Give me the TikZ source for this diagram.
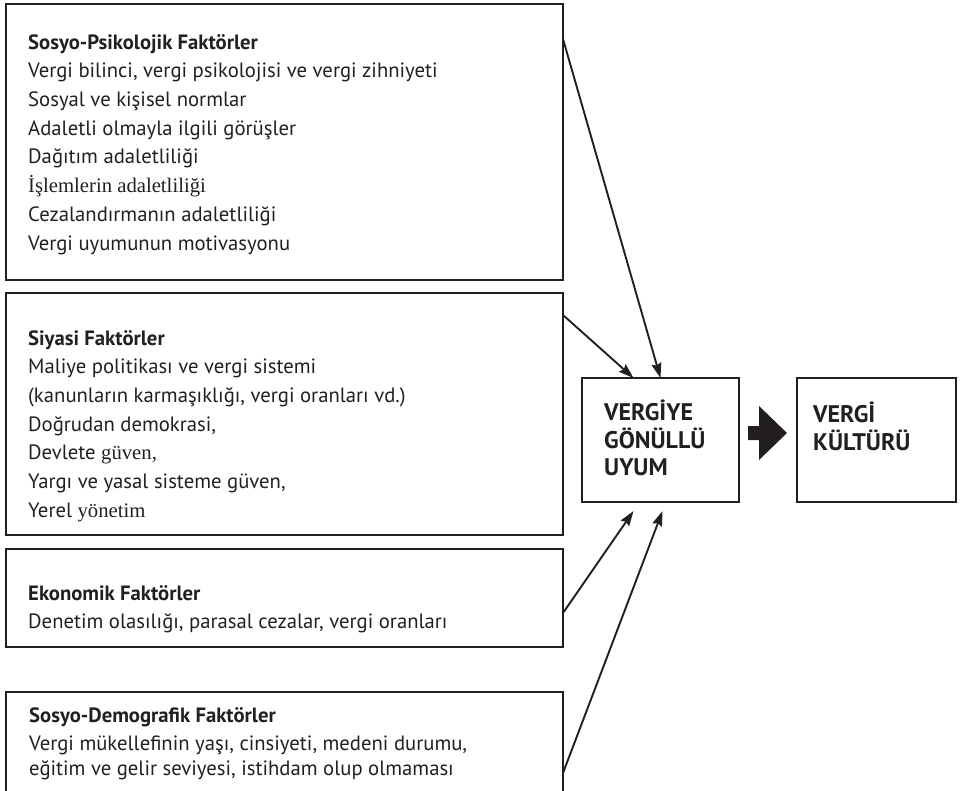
\documentclass[tikz,border=0pt]{standalone}
\usepackage{fontspec}
\setmainfont{PT Sans}
\newfontfamily\serifpart{Liberation Serif}
\usetikzlibrary{positioning,calc,arrows.meta}
\definecolor{inkblack}{RGB}{35,31,32}

\begin{document}
\begin{tikzpicture}[x=1pt,y=-1pt,
   facbox/.style={draw=inkblack,line width=2.3pt,minimum width=557pt,anchor=north west,
               inner sep=0pt,outer sep=0pt},
   factxt/.style={anchor=north west,inner sep=0pt,align=left,text=inkblack,
               font=\fontsize{20.7}{28.7}\selectfont},
   mainbox/.style={draw=inkblack,line width=2.3pt,minimum width=157pt,minimum height=124pt,
               anchor=north west,inner sep=0pt,outer sep=0pt},
   maintxt/.style={anchor=north west,inner sep=0pt,align=left,text=inkblack,
               font=\bfseries\fontsize{24}{27.5}\selectfont},
   arr/.style={-{Stealth[length=15pt,width=10pt,inset=2pt]},line width=1.9pt,color=inkblack}]
  \clip (0,0) rectangle (960,791);
  % factor boxes
  \node[facbox,minimum height=276pt] (psy) at (6,4) {};
  \node[facbox,minimum height=242pt] (pol) at (6,293) {};
  \node[facbox,minimum height=98pt] (eco) at (6,549) {};
  \node[facbox,minimum height=120pt] (dem) at (6,692) {};
  \node[factxt] (psytxt) at (28,34) {\textbf{Sosyo-Psikolojik Faktörler}\\
        Vergi bilinci, vergi psikolojisi ve vergi zihniyeti\\
        Sosyal ve kişisel normlar\\
        Adaletli olmayla ilgili görüşler\\
        Dağıtım adaletliliği\\
        {\serifpart İşlemlerin adaletliliği}\\
        Cezalandırmanın adaletliliği\\
        Vergi uyumunun motivasyonu};
  \node[factxt] (poltxt) at (28,330) {\textbf{Siyasi Faktörler}\\
        Maliye politikası ve vergi sistemi\\
        (kanunların karmaşıklığı, vergi oranları vd.)\\
        Doğrudan demokrasi,\\
        Devlete {\serifpart güven,}\\
        Yargı ve yasal sisteme güven,\\
        Yerel {\serifpart yönetim}};
  \node[factxt] (ecotxt) at (28,585) {\textbf{Ekonomik Faktörler}\\
        Denetim olasılığı, parasal cezalar, vergi oranları};
  \node[factxt] (demtxt) at (29,707) {\textbf{Sosyo-Demografik Faktörler}\\
        Vergi mükellefinin yaşı, cinsiyeti, medeni durumu,\\[-4pt]
        eğitim ve gelir seviyesi, istihdam olup olmaması};
  % result boxes
  \node[mainbox] (comply) at (582,378) {};
  \node[mainbox,minimum width=159pt] (culture) at (797,378) {};
  \node[maintxt] (complytxt) at (604,400) {VERGİYE\\ GÖNÜLLÜ\\ UYUM};
  \node[maintxt] (culturetxt) at (813,402) {VERGİ\\ KÜLTÜRÜ};
  % arrows
  \draw[arr] ([shift={(0,35)}]psy.north east) -- (comply.north);
  \draw[arr] ([shift={(0,22)}]pol.north east) -- ([shift={(-27,0)}]comply.north);
  \draw[arr] ([shift={(0,64)}]eco.north east) -- ([shift={(-27,9)}]comply.south);
  \draw[arr] ([shift={(0,81)}]dem.north east) -- ([shift={(2,9)}]comply.south);
  \fill[inkblack] ([shift={(9,-14)}]comply.east) -- ++(11,0) -- ++(0,-20) -- ++(28,27)
        -- ++(-28,27) -- ++(0,-20) -- ++(-11,0) -- cycle;
\end{tikzpicture}
\end{document}
